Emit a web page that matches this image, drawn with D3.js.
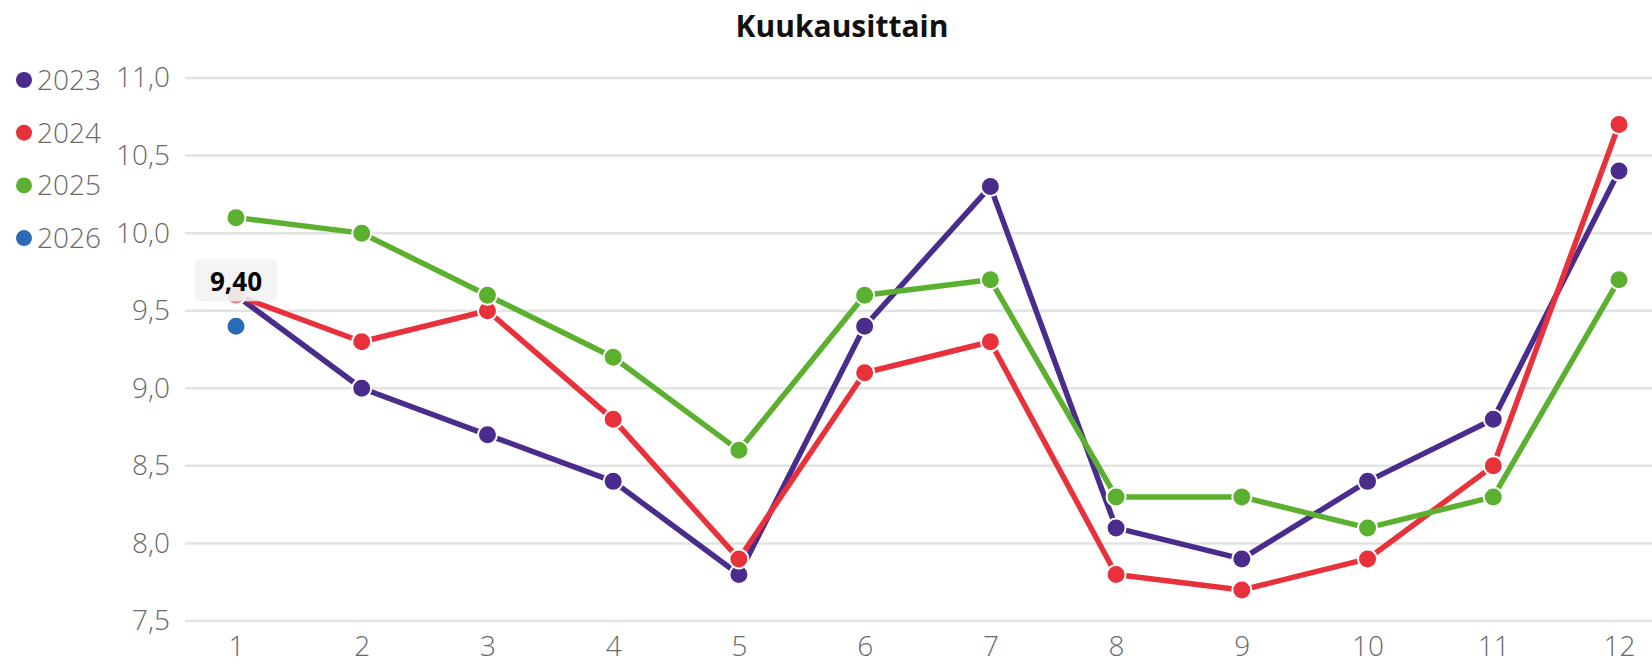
<!DOCTYPE html>
<html>
<head>
<meta charset="utf-8">
<script src="https://cdn.jsdelivr.net/npm/d3@7"></script>
<style>
  body { margin: 0; background: #fff; }
  svg text { font-family: "Open Sans", "Noto Sans", sans-serif; }
</style>
</head>
<body>
<div id="chart"></div>
<script>
// data
var months = [1, 2, 3, 4, 5, 6, 7, 8, 9, 10, 11, 12];
var years = ["2023", "2024", "2025", "2026"];
var v2023 = [9.6, 9.0, 8.7, 8.4, 7.8, 9.4, 10.3, 8.1, 7.9, 8.4, 8.8, 10.4];
var v2024 = [9.6, 9.3, 9.5, 8.8, 7.9, 9.1, 9.3, 7.8, 7.7, 7.9, 8.5, 10.7];
var v2025 = [10.1, 10.0, 9.6, 9.2, 8.6, 9.6, 9.7, 8.3, 8.3, 8.1, 8.3, 9.7];
var v2026 = [9.4];
var yTicks = [7.5, 8.0, 8.5, 9.0, 9.5, 10.0, 10.5, 11.0];
var colors = ["#4a2c8c", "#e8313a", "#5bb030", "#2b6bb5"];
var tooltipValue = 9.4;

var width = 1652, height = 664;

var svg = d3.select("#chart").append("svg")
    .attr("width", width)
    .attr("height", height);

var x = d3.scalePoint()
    .domain(months)
    .range([236, 1619]);

var y = d3.scaleLinear()
    .domain([7.5, 11.0])
    .range([621, 78]);

var fmt = function(v) { return d3.format(".1f")(v).replace(".", ","); };

// title
svg.append("text")
    .attr("x", 842)
    .attr("y", 37)
    .attr("text-anchor", "middle")
    .attr("font-size", 30)
    .attr("font-weight", "bold")
    .attr("fill", "#111")
    .text("Kuukausittain");

// gridlines
svg.append("g")
    .selectAll("line")
    .data(yTicks)
    .enter().append("line")
    .attr("x1", 185)
    .attr("x2", 1652)
    .attr("y1", function(d) { return y(d); })
    .attr("y2", function(d) { return y(d); })
    .attr("stroke", "#e2e4e2")
    .attr("stroke-width", 2.5);

// y axis
var yAxis = svg.append("g")
    .attr("transform", "translate(170,0)")
    .call(d3.axisLeft(y).tickValues(yTicks).tickFormat(fmt).tickSize(0).tickPadding(0));
yAxis.select(".domain").remove();
yAxis.selectAll("text")
    .attr("font-size", 28)
    .attr("font-family", "'Open Sans', sans-serif")
    .attr("font-weight", 300)
    .attr("fill", "#6a6a6a");

// x axis
var xAxis = svg.append("g")
    .attr("transform", "translate(0,635)")
    .call(d3.axisBottom(x).tickSize(0).tickPadding(0));
xAxis.select(".domain").remove();
xAxis.selectAll("text")
    .attr("font-size", 28)
    .attr("font-family", "'Open Sans', sans-serif")
    .attr("font-weight", 300)
    .attr("fill", "#6a6a6a")
    .attr("dy", "0.75em");

// series
var series = [v2023, v2024, v2025, v2026];
var line = d3.line()
    .x(function(d, i) { return x(months[i]); })
    .y(function(d) { return y(d); });

series.forEach(function(vals, k) {
    var g = svg.append("g");
    g.append("path")
        .datum(vals)
        .attr("fill", "none")
        .attr("stroke", colors[k])
        .attr("stroke-width", 5.5)
        .attr("stroke-linejoin", "round")
        .attr("d", line);
    g.selectAll("circle")
        .data(vals)
        .enter().append("circle")
        .attr("cx", function(d, i) { return x(months[i]); })
        .attr("cy", function(d) { return y(d); })
        .attr("r", 9.5)
        .attr("fill", function(d, i) { return (k == 1 && i == 0) ? "#e88a8a" : colors[k]; })
        .attr("stroke", "#fff")
        .attr("stroke-width", 2);
});

// tooltip label
var tip = svg.append("g")
    .attr("transform", "translate(" + x(1) + "," + y(tooltipValue) + ")");
tip.insert("rect", ":first-child")
    .attr("x", -41)
    .attr("y", -67)
    .attr("width", 82)
    .attr("height", 42)
    .attr("rx", 3)
    .attr("fill", "#f2f2f2")
    .attr("fill-opacity", 0.85);
tip.append("text")
    .attr("text-anchor", "middle")
    .attr("y", -35)
    .attr("font-size", 26)
    .attr("font-weight", "bold")
    .attr("fill", "#000")
    .text(d3.format(".2f")(tooltipValue).replace(".", ","));

// legend
var legend = svg.append("g")
    .selectAll("g")
    .data(years)
    .enter().append("g")
    .attr("transform", function(d, i) { return "translate(24," + (80 + i * 52.7) + ")"; });
legend.append("circle")
    .attr("r", 8)
    .attr("fill", function(d, i) { return colors[i]; });
legend.append("text")
    .attr("x", 13)
    .attr("dy", "0.36em")
    .attr("font-size", 28)
    .attr("font-weight", 300)
    .attr("fill", "#6a6a6a")
    .text(function(d) { return d; });
</script>
</body>
</html>
